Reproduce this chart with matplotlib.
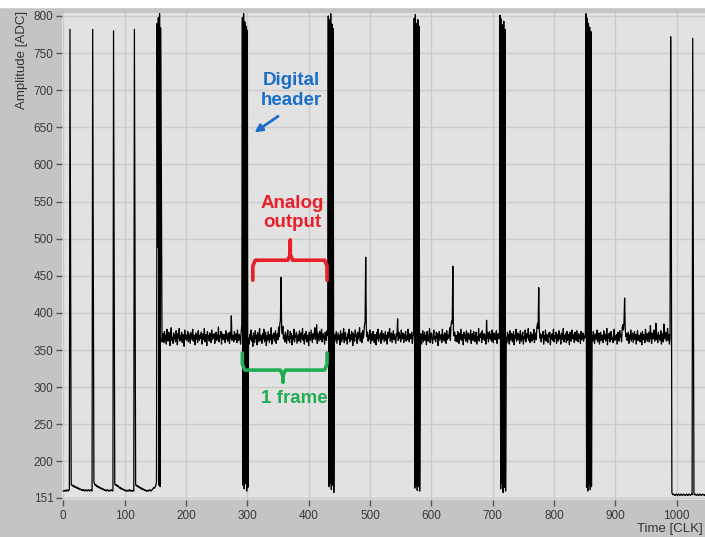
import matplotlib.pyplot as plt
import numpy as np

plt.rcParams['font.family'] = ['Liberation Sans', 'DejaVu Sans']

# ---- data (ADC amplitude per clock) ----
pre_header = [160, 160, 161, 160, 161, 160, 162, 161, 160, 161, 162,
              782, 476,
              169, 168, 167, 168, 166, 167, 165, 166, 165, 164, 165, 163, 164, 163, 162, 163, 162, 161, 162, 161,
              162, 161, 160, 161, 162, 161, 160, 161, 162, 161, 160, 161, 162, 161, 160,
              782, 476,
              172, 170, 168, 169, 167, 166, 167, 165, 166, 164, 165, 164, 163, 164, 162, 163, 162, 161, 162, 161,
              160, 161, 162, 161, 160, 161, 160, 161, 162, 161, 160, 161,
              780, 476,
              170, 168, 169, 167, 168, 166, 167, 165, 164, 165, 163, 164, 162, 163, 162, 161, 162, 161, 160, 161,
              160, 161, 160, 161, 162, 160, 161, 160, 161, 160, 161, 160,
              782, 476,
              169, 167, 168, 166, 167, 165, 166, 164, 165, 163, 164, 162, 163, 162, 161, 162, 161, 160, 161, 160,
              161, 160, 161, 162, 161, 160, 161, 162, 163, 164, 165, 164, 166, 168]

header_0 = [172, 790, 488, 798, 168, 803, 166, 784, 576, 361]
header_1 = [798, 168, 803, 163, 792, 170, 786, 160, 781, 165]
header_2 = [800, 166, 795, 170, 803, 162, 789, 168, 783, 158]
header_3 = [797, 164, 802, 168, 790, 161, 795, 166, 786, 160]
header_4 = [801, 163, 796, 170, 788, 158, 793, 165, 782, 160]
header_5 = [803, 165, 797, 160, 790, 168, 785, 162, 779, 166]

analog_a = [368, 372, 360, 375, 364, 370, 358, 378, 366, 362, 374, 369, 356, 371, 380, 363, 367, 359, 373, 365,
            370, 361, 376, 368, 357, 372, 366, 379, 362, 369, 364, 374, 360, 371, 367, 355, 377, 365, 370, 363,
            368, 375, 361, 372, 366, 359, 374, 369, 364, 378, 362, 370, 367, 357, 373, 365, 371, 360, 376, 368,
            363, 370, 366, 374, 358, 369, 372, 364, 379, 361, 367, 371, 356, 375, 366, 369, 362, 373, 368, 360,
            377, 364, 370, 366, 372, 359, 368, 374, 363, 370, 365, 381, 361, 369, 367, 375, 358, 372, 366, 364,
            371, 368, 360, 376, 365, 370, 362, 373, 367, 359, 374, 366, 396, 363, 370, 368, 361, 375, 364, 369,
            372, 360, 377, 366, 363, 371, 368, 358, 374, 383]
analog_b = [366, 358, 371, 364, 377, 362, 369, 355, 373, 367, 360, 376, 365, 370, 357, 374, 368, 361, 379, 363,
            370, 366, 359, 372, 365, 378, 361, 368, 374, 356, 369, 363, 375, 367, 360, 371, 364, 380, 358, 370,
            366, 373, 362, 369, 376, 359, 367, 372, 364, 381, 368, 385, 390, 448, 378, 372, 382, 365, 370, 361,
            374, 366, 359, 371, 377, 363, 368, 360, 375, 366, 372, 357, 369, 364, 378, 361, 370, 367, 374, 359,
            365, 371, 362, 376, 368, 360, 373, 366, 379, 363, 369, 358, 372, 365, 375, 361, 368, 370, 356, 374,
            366, 363, 377, 369, 360, 372, 365, 371, 380, 364, 368, 384, 359, 373, 367, 362, 375, 370, 364, 378,
            361, 369, 372, 366, 358, 374, 367, 363, 376, 370]
analog_c = [371, 362, 368, 375, 359, 366, 373, 364, 370, 357, 376, 368, 361, 372, 365, 379, 360, 369, 374, 363,
            367, 358, 372, 366, 378, 361, 370, 364, 375, 369, 356, 373, 366, 362, 377, 368, 371, 359, 374, 365,
            369, 380, 362, 367, 373, 360, 376, 366, 371, 384, 388, 475, 380, 368, 374, 362, 370, 365, 377, 359,
            368, 372, 363, 375, 366, 360, 371, 369, 357, 374, 365, 378, 362, 370, 367, 373, 359, 376, 364, 369,
            372, 361, 368, 375, 363, 370, 358, 374, 366, 371, 379, 362, 367, 373, 360, 368, 376, 364, 371, 365,
            359, 372, 369, 392, 363, 374, 366, 370, 361, 377, 365, 368, 373, 360, 371, 366, 375, 362, 369, 364,
            378, 367, 361, 372, 370, 365, 374, 359, 368, 371]
analog_d = [364, 372, 358, 369, 376, 361, 367, 374, 363, 370, 357, 375, 366, 362, 371, 379, 360, 368, 373, 365,
            359, 370, 377, 364, 368, 361, 374, 366, 372, 356, 369, 375, 363, 367, 371, 360, 378, 365, 370, 362,
            373, 368, 359, 376, 364, 370, 366, 372, 380, 363, 383, 389, 386, 463, 377, 369, 374, 362, 370, 366,
            361, 375, 368, 359, 372, 365, 378, 363, 369, 371, 357, 374, 366, 370, 362, 376, 368, 360, 373, 365,
            371, 364, 377, 359, 369, 372, 363, 375, 366, 361, 370, 374, 358, 368, 365, 379, 362, 371, 367, 373,
            360, 376, 364, 369, 372, 363, 370, 358, 390, 366, 374, 361, 368, 375, 365, 371, 362, 377, 367, 360,
            373, 369, 364, 371, 376, 359, 368, 372, 365, 370]
analog_e = [367, 360, 374, 365, 371, 358, 376, 363, 369, 372, 361, 368, 375, 357, 370, 366, 378, 362, 369, 373,
            364, 371, 359, 376, 367, 362, 370, 374, 358, 368, 365, 377, 361, 372, 366, 369, 379, 363, 370, 360,
            374, 367, 362, 371, 365, 378, 360, 369, 373, 364, 381, 386, 379, 434, 376, 366, 372, 361, 370, 367,
            375, 358, 369, 364, 377, 362, 371, 366, 360, 373, 368, 374, 357, 370, 365, 372, 363, 378, 361, 369,
            366, 374, 359, 371, 367, 362, 376, 365, 370, 358, 373, 368, 364, 379, 361, 370, 366, 372, 360, 375,
            363, 369, 371, 357, 374, 366, 362, 377, 368, 365, 371, 360, 374, 369, 363, 376, 367, 361, 372, 366,
            370, 359, 375, 364, 368, 373, 362, 370, 366, 371]
analog_f = [370, 362, 375, 366, 359, 372, 368, 364, 377, 361, 369, 373, 358, 366, 374, 363, 370, 367, 360, 376,
            365, 371, 362, 368, 379, 357, 370, 366, 373, 361, 369, 375, 364, 367, 360, 372, 378, 363, 369, 365,
            371, 358, 374, 366, 362, 376, 368, 370, 361, 380, 384, 377, 388, 420, 379, 368, 372, 363, 366, 374,
            359, 370, 365, 377, 362, 369, 373, 360, 367, 375, 364, 371, 358, 368, 376, 363, 370, 366, 361, 373,
            369, 357, 375, 364, 371, 367, 360, 378, 365, 372, 362, 369, 374, 361, 366, 383, 368, 359, 373, 365,
            370, 377, 362, 368, 386, 364, 371, 360, 374, 366, 369, 363, 376, 358, 372, 367, 361, 385, 365, 370,
            374, 362, 368, 379, 363, 371, 358, 366]

tail = [772, 585, 158,
        156, 155, 156, 155, 154, 155, 156, 155, 154, 155, 156, 155, 154, 155, 156, 155, 154,
        155, 156, 155, 155, 154, 155, 156, 155, 154, 155, 156, 155, 154, 155, 156, 155,
        770, 480,
        156, 155, 156, 155, 154, 155, 156, 155, 154, 155, 156, 155, 154, 155, 156, 155, 155, 154, 155]

amplitude = np.array(pre_header + header_0 + analog_a + header_1 + analog_b + header_2 + analog_c
                     + header_3 + analog_d + header_4 + analog_e + header_5 + analog_f + tail)
clk = np.arange(len(amplitude))

y_ticks = [151, 200, 250, 300, 350, 400, 450, 500, 550, 600, 650, 700, 750, 800]
x_ticks = [0, 100, 200, 300, 400, 500, 600, 700, 800, 900, 1000]

blue = '#1b6fc8'
red = '#e8202a'
green = '#22ad55'

fig = plt.figure(figsize=(7.05, 5.37), dpi=100, facecolor='#c4c4c4')
fig.patches.append(plt.Rectangle((0, 530 / 537), 1, 7 / 537, transform=fig.transFigure,
                                 color='white', zorder=0))

ax = fig.add_axes([62 / 705, 37 / 537, 643 / 705, 487 / 537])
ax.set_facecolor('#e2e2e2')

ax.plot(clk, amplitude, c='black', lw=0.9, zorder=3)

ax.set_xlim(-2, 1046)
ax.set_ylim(148, 804)
ax.set_xticks(x_ticks)
ax.set_yticks(y_ticks)
ax.grid(True, color='#cbcbcb', lw=1)
ax.set_axisbelow(True)
for s in ax.spines.values():
    s.set_visible(False)
ax.tick_params(axis='both', colors='#555555', labelcolor='#3a3a3a', labelsize=8.5,
               length=4, width=1)
ax.tick_params(axis='y', pad=2)
ax.tick_params(axis='x', pad=3)

fig.text(22 / 705, 1 - 60 / 537, 'Amplitude [ADC]', rotation=90, ha='center', va='center',
         fontsize=9.5, color='#333333')
fig.text(703 / 705, 1 - 529 / 537, 'Time [CLK]', ha='right', va='center',
         fontsize=9.5, color='#333333')


# ---- annotations ----
def brace(x0, x1, xc, y_bar, y_end, y_tip, color):
    d = np.sign(y_tip - y_bar)
    rx, ry = 4, 8
    xs = [x0, x0, x0 + rx, xc - rx, xc, xc, xc, xc + rx, x1 - rx, x1, x1]
    ys = [y_end, y_bar - d * ry, y_bar, y_bar, y_bar + d * ry, y_tip,
          y_bar + d * ry, y_bar, y_bar, y_bar - d * ry, y_end]
    ax.plot(xs, ys, c=color, lw=2.6, solid_joinstyle='round', solid_capstyle='round', zorder=5)


ax.text(372, 700, 'Digital\nheader', color=blue, fontsize=13.5, fontweight='bold',
        ha='center', va='center', linespacing=1.25, zorder=6)
ax.annotate('', xy=(308, 641), xytext=(354, 667),
            arrowprops=dict(arrowstyle='-|>', color=blue, lw=2, mutation_scale=11), zorder=6)

ax.text(373, 535, 'Analog\noutput', color=red, fontsize=13.5, fontweight='bold',
        ha='center', va='center', linespacing=1.15, zorder=6)
brace(309, 430, 370, 471, 444, 498, red)

brace(292, 430, 358, 323, 346, 307, green)
ax.text(376, 285, '1 frame', color=green, fontsize=13.5, fontweight='bold',
        ha='center', va='center', zorder=6)

plt.savefig('out.png', dpi=100, facecolor=fig.get_facecolor())
